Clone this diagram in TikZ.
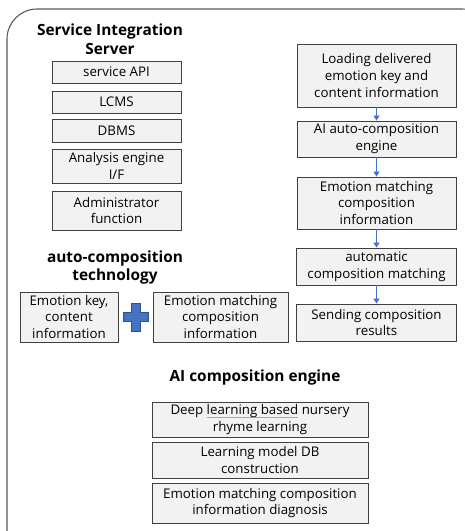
\documentclass[tikz,border=0pt]{standalone}
\usepackage{fontspec}
\setmainfont{Open Sans}
\usetikzlibrary{arrows.meta}
\definecolor{boxfill}{HTML}{F2F2F2}
\definecolor{boxline}{HTML}{404040}
\definecolor{flowblue}{HTML}{4472C4}
\definecolor{plusline}{HTML}{2F528F}
\definecolor{squiggle}{HTML}{8EAADB}
% thin coloured proofing line under a phrase
\newcommand\proofline[1]{\setbox0\hbox{#1}\rlap{\textcolor{squiggle}{\rule[-3pt]{\wd0}{0.8pt}}}\box0\relax}
\tikzset{
  bx/.style={draw=boxline, line width=0.9pt, fill=boxfill, align=center,
    inner sep=0pt, font=\fontsize{13.3}{16.9}\selectfont},
  ttl/.style={align=center, inner sep=0pt, font=\fontsize{15.4}{18.5}\selectfont\bfseries},
  flow/.style={draw=flowblue, line width=0.8pt, -{Triangle[width=6pt,length=5pt]}}
}
\begin{document}
\begin{tikzpicture}[x=1pt,y=-1pt]
\useasboundingbox (0,0) rectangle (465,531);
\begin{scope}
  \clip (0,0) rectangle (465,531);
  % outer frame, running past the right and bottom edges
  \draw[draw=black!65, line width=1.1pt, rounded corners=30pt] (7,9) rectangle (492,560);
\end{scope}

% Service Integration Server
\node[ttl] (tserv) at (110,39) {Service Integration\\Server};
\node[bx, minimum width=129pt, minimum height=22pt] (api)   at (116.5,72)  {service API};
\node[bx, minimum width=129pt, minimum height=22pt] (lcms)  at (116.5,102) {LCMS};
\node[bx, minimum width=129pt, minimum height=23pt] (dbms)  at (116.5,130.5) {DBMS};
\node[bx, minimum width=129pt, minimum height=34pt] (anl)   at (116.5,166) {Analysis engine\\I/F};
\node[bx, minimum width=129pt, minimum height=39pt] (adm)   at (116.5,210.5) {Administrator\\function};

% auto-composition technology
\node[ttl] (tauto) at (115,267.5) {auto-composition\\technology};
\node[bx, minimum width=98pt, minimum height=50pt] (ekey) at (69,317) {Emotion key,\\content\\information};
\node[bx, minimum width=135pt, minimum height=50pt] (emat) at (220.5,317) {Emotion matching\\composition\\information};
\coordinate (plus) at (135.5,317);
\fill[flowblue, draw=plusline, line width=0.6pt]
  ([shift={(-4.5,-14)}]plus) -- ([shift={(4.5,-14)}]plus) -- ([shift={(4.5,-4.5)}]plus)
  -- ([shift={(12.5,-4.5)}]plus) -- ([shift={(12.5,4.5)}]plus) -- ([shift={(4.5,4.5)}]plus)
  -- ([shift={(4.5,14)}]plus) -- ([shift={(-4.5,14)}]plus) -- ([shift={(-4.5,4.5)}]plus)
  -- ([shift={(-12.5,4.5)}]plus) -- ([shift={(-12.5,-4.5)}]plus) -- ([shift={(-4.5,-4.5)}]plus) -- cycle;

% processing flow
\node[bx, minimum width=159pt, minimum height=63pt] (load) at (376.5,75.5) {Loading delivered\\emotion key and\\content information};
\node[bx, minimum width=159pt, minimum height=36pt] (aie)  at (376.5,139) {AI auto-composition\\engine};
\node[bx, minimum width=159pt, minimum height=52pt] (emi)  at (376.5,203) {Emotion matching\\composition\\information};
\node[bx, minimum width=160pt, minimum height=37pt] (acm)  at (376.5,266.5) {automatic\\composition matching};
\node[bx, minimum width=160pt, minimum height=37pt] (scr)  at (376.5,322.5) {Sending composition\\results};
\draw[flow] (load) -- (aie);
\draw[flow] (aie) -- (emi);
\draw[flow] (emi) -- (acm);
\draw[flow] (acm) -- (scr);

% AI composition engine
\node[ttl] (tai) at (255,377) {AI composition engine};
\node[bx, minimum width=216pt, minimum height=35pt] (dl)  at (260,419.5) {Deep \proofline{learning based} nursery\\rhyme learning};
\node[bx, minimum width=216pt, minimum height=36pt] (lm)  at (260,460) {Learning model DB\\construction};
\node[bx, minimum width=216pt, minimum height=40pt] (emd) at (260,503) {Emotion matching composition\\information diagnosis};
\end{tikzpicture}
\end{document}
